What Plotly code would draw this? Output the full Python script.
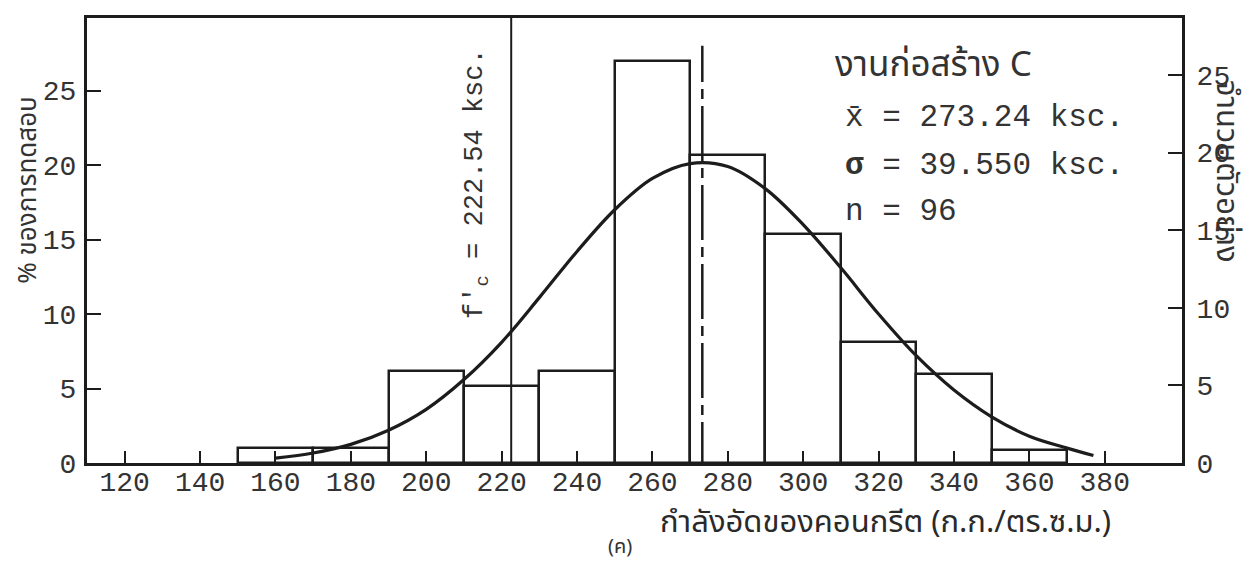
import plotly.graph_objects as go

# ---------------- data ----------------
bin_left = [150, 170, 190, 210, 230, 250, 270, 290, 310, 330, 350]
bin_width = 20
pct_values = [1.0, 1.0, 6.2, 5.2, 6.2, 27.0, 20.7, 15.4, 8.1, 6.0, 0.9]

curve_x = [160, 170, 180, 190, 200, 210, 220, 230, 240, 250, 260, 270,
           280, 290, 300, 310, 320, 330, 340, 350, 360, 370, 377]
curve_y = [0.33, 0.67, 1.25, 2.2, 3.6, 5.6, 8.1, 11.1, 14.2, 17.0, 19.1, 20.1,
           19.9, 18.4, 16.0, 13.1, 10.0, 7.2, 4.9, 3.1, 1.8, 1.0, 0.5]

x_ticks = [120, 140, 160, 180, 200, 220, 240, 260, 280, 300, 320, 340, 360, 380]
y_ticks_pct = [0, 5, 10, 15, 20, 25]
y_ticks_cnt = [0, 5, 10, 15, 20, 25]

MEAN = 273.24
SIGMA = 39.550
N = 96
FC = 222.54

site_label = "งานก่อสร้าง C"
x_title = "กำลังอัดของคอนกรีต (ก.ก./ตร.ซ.ม.)"
y_title = "% ของการทดสอบ"
y2_title = "จำนวนตัวอย่าง"
caption = "(ค)"

# ---------------- styling ----------------
INK = "#1c1c1c"
TXT = "#333333"
MONO = "Liberation Mono, Courier New, monospace"
THAI = "Noto Sans Thai, Loma, Garuda, Tlwg Typo, DejaVu Sans, Noto Sans, sans-serif"

OFF = 8                      # page body margin of the html page
W, H = 1259 - OFF, 564 - OFF
L, R, T, B = 87, 1182, 15, 463   # plot area in page pixels
XR = [110, 400.5]
YR = [0, 29.87]
YR2 = [0, YR[1] * N / 100.0]

def px(xp):
    return (xp - L) / (R - L)

def py(yp):
    return (B - yp) / (B - T)

fig = go.Figure()

centers = [b + bin_width / 2 for b in bin_left]
fig.add_trace(go.Bar(
    x=centers, y=pct_values, width=[bin_width] * len(centers),
    marker=dict(color="rgba(255,255,255,0)", line=dict(color=INK, width=2.5)),
    showlegend=False, hoverinfo="skip"))

fig.add_trace(go.Scatter(
    x=curve_x, y=curve_y, mode="lines",
    line=dict(color=INK, width=3.2, shape="spline", smoothing=1.0),
    showlegend=False, hoverinfo="skip"))

# mean line (dash-dot), extends a little below the axis
fig.add_trace(go.Scatter(
    x=[MEAN, MEAN], y=[YR[1] * py(477), YR[1] * py(43)], mode="lines",
    line=dict(color=INK, width=2.5, dash="55px,7px,10px,7px"),
    cliponaxis=False, showlegend=False, hoverinfo="skip"))

# invisible trace to activate right axis
fig.add_trace(go.Scatter(x=[XR[0]], y=[0], yaxis="y2", mode="markers",
                         marker=dict(opacity=0), showlegend=False, hoverinfo="skip"))

# f'c line
fig.add_shape(type="line", xref="x", yref="paper", x0=FC, x1=FC, y0=0, y1=1,
              line=dict(color=INK, width=2))

def ann(xp, yp, text, font, angle=0, xanchor="center"):
    return dict(x=px(xp), y=py(yp), xref="paper", yref="paper",
                xanchor=xanchor, yanchor="middle", text=text, textangle=angle,
                showarrow=False, font=font)

annotations = [
    ann(477, 182, "f′<sub>c</sub> = %.2f ksc." % FC, dict(family=MONO, size=27, color=TXT), -90),
    ann(833, 63, site_label, dict(family=THAI, size=35, color=TXT), xanchor="left"),
    ann(843, 115, "x\u0304 = %.2f ksc." % MEAN, dict(family=MONO, size=31, color=TXT), xanchor="left"),
    ann(843, 163, "<b>σ</b> = %.3f ksc." % SIGMA, dict(family=MONO, size=31, color=TXT), xanchor="left"),
    ann(843, 210, "n = %d" % N, dict(family=MONO, size=31, color=TXT), xanchor="left"),
    ann(28, 188, y_title, dict(family=THAI, size=26, color=TXT), -90),
    ann(1226, 169, y2_title, dict(family=THAI, size=31, color=TXT), 90),
    ann(885, 523, x_title, dict(family=THAI, size=31, color="#2a2a2a")),
    ann(620, 548, caption, dict(family=THAI, size=20, color=TXT)),
]

fig.update_layout(
    width=W, height=H,
    margin=dict(l=L - OFF, r=W - (R - OFF), t=T - OFF, b=H - (B - OFF), pad=0),
    paper_bgcolor="white", plot_bgcolor="white",
    bargap=0,
    xaxis=dict(range=XR, tickvals=x_ticks, ticks="inside", ticklen=12, tickwidth=2,
               tickcolor=INK, showline=True, linewidth=3, linecolor=INK, mirror=True,
               showgrid=False, zeroline=False,
               tickfont=dict(family=MONO, size=28, color=TXT), ticklabelstandoff=-9),
    yaxis=dict(range=YR, tickvals=y_ticks_pct, ticks="inside", ticklen=14, tickwidth=2,
               tickcolor=INK, showline=True, linewidth=3, linecolor=INK,
               showgrid=False, zeroline=False,
               tickfont=dict(family=MONO, size=28, color=TXT), ticklabelstandoff=2),
    yaxis2=dict(range=YR2, tickvals=y_ticks_cnt, overlaying="y", side="right",
                ticks="inside", ticklen=14, tickwidth=2, tickcolor=INK,
                showline=True, linewidth=3, linecolor=INK,
                showgrid=False, zeroline=False,
                tickfont=dict(family=MONO, size=28, color=TXT), ticklabelstandoff=6),
    annotations=annotations,
)

fig.write_html("out.html")
